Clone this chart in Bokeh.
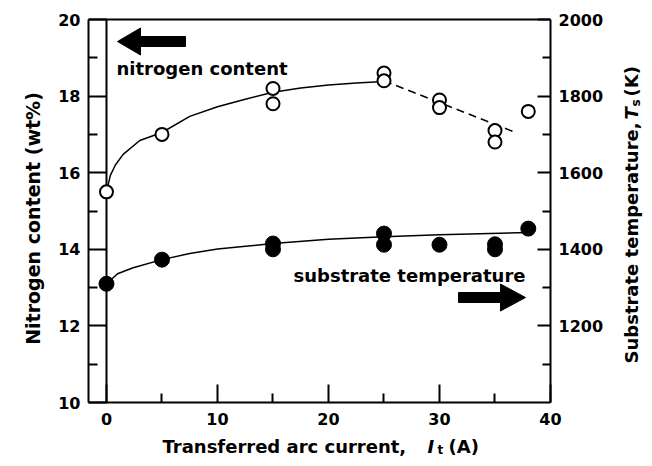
import math
from bokeh.plotting import figure
from bokeh.models import Range1d, LinearAxis, FixedTicker, Label, ColumnDataSource
from bokeh.embed import file_html
from bokeh.resources import INLINE

# ---------------- data ----------------
# nitrogen content (open circles, left axis, wt%)
n_current = [0, 5, 15, 15, 25, 25, 30, 30, 35, 35, 38]
n_content = [15.5, 17.0, 18.2, 17.8, 18.6, 18.4, 17.9, 17.7, 17.1, 16.8, 17.6]

# substrate temperature (filled circles, right axis, K)
t_current = [0, 5, 15, 15, 25, 25, 30, 35, 35, 38]
t_temp = [1310, 1373, 1415, 1400, 1441, 1412, 1412, 1413, 1400, 1454]

# fitted curves as drawn in the figure
n_fit_x = [0, 0.35, 0.8, 1.5, 3, 5, 7.5, 10, 12.5, 15, 17.5, 20, 22.5, 25]
n_fit_y = [15.5, 15.93, 16.2, 16.48, 16.84, 17.05, 17.47, 17.72, 17.92,
           18.1, 18.21, 18.29, 18.34, 18.38]
n_dash_x = [25, 30, 36.6]
n_dash_y = [18.4, 17.83, 17.08]

t_fit_x = [0, 0.5, 1, 2.4, 5, 7.5, 10, 15, 20, 25, 30, 38]
t_fit_y = [1310, 1323, 1336, 1352, 1373, 1389, 1401, 1415, 1426, 1433, 1438, 1444]

x_ticks = [0, 10, 20, 30, 40]
x_minor = [5, 15, 25, 35]
yl_ticks = [10, 12, 14, 16, 18, 20]
yl_minor = [11, 13, 15, 17, 19]
yr_ticks = [1200, 1400, 1600, 1800, 2000]
yr_minor = [1100, 1300, 1500, 1700, 1900]

X_LO, X_HI = -1.62, 40      # plotted box, x
Y_LO, Y_HI = 10, 20         # plotted box, left axis
T_LO, T_HI = 1000, 2000     # plotted box, right axis

FONT = "DejaVu Sans"
W, H = 644, 458
# pixel geometry of the plotted box inside the canvas
BOX_L, BOX_R, BOX_T, BOX_B = 88, 550, 19, 402

sx = (BOX_R - BOX_L) / (X_HI - X_LO)
sy = (BOX_B - BOX_T) / (Y_HI - Y_LO)
x_full = (X_LO - BOX_L / sx, X_HI + (W - BOX_R) / sx)
y_full = (Y_LO - (H - BOX_B) / sy, Y_HI + BOX_T / sy)
k = (T_HI - T_LO) / (Y_HI - Y_LO)
t_full = (T_LO + (y_full[0] - Y_LO) * k, T_LO + (y_full[1] - Y_LO) * k)

def fx(px):
    return x_full[0] + px / sx

def fy(py):
    return y_full[1] - py / sy

p = figure(width=W, height=H, output_backend="svg", toolbar_location=None,
           x_range=Range1d(*x_full), y_range=Range1d(*y_full),
           min_border=0, background_fill_color="white",
           border_fill_color="white", x_axis_location=None, y_axis_location=None)
p.grid.visible = False
p.outline_line_color = None
p.extra_y_ranges = {"T": Range1d(*t_full)}

def style_axis(ax, major_in, minor_in, standoff, labels=True):
    ax.axis_line_width = 2
    ax.axis_line_color = "black"
    ax.major_tick_in = major_in
    ax.major_tick_out = 0
    ax.minor_tick_in = minor_in
    ax.minor_tick_out = 0
    ax.major_tick_line_width = 2
    ax.minor_tick_line_width = 2
    ax.major_tick_line_color = "black"
    ax.minor_tick_line_color = "black"
    ax.major_label_text_font = FONT
    ax.major_label_text_font_style = "bold"
    ax.major_label_text_font_size = "16px"
    ax.major_label_text_color = "black"
    ax.major_label_standoff = standoff
    if not labels:
        ax.major_label_text_alpha = 0

xa = LinearAxis(fixed_location=Y_LO, bounds=(X_LO, X_HI),
                ticker=FixedTicker(ticks=x_ticks, minor_ticks=x_minor))
style_axis(xa, 18, 9, 10)
p.add_layout(xa, "below")

ya = LinearAxis(fixed_location=X_LO, bounds=(Y_LO, Y_HI),
                ticker=FixedTicker(ticks=yl_ticks, minor_ticks=yl_minor))
style_axis(ya, 18, 9, 8)
p.add_layout(ya, "left")

ra = LinearAxis(y_range_name="T", fixed_location=X_HI, bounds=(T_LO, T_HI),
                ticker=FixedTicker(ticks=yr_ticks, minor_ticks=yr_minor))
style_axis(ra, 13, 8, 8)
p.add_layout(ra, "right")

# top edge of the box and the vertical line at zero current
ta = LinearAxis(fixed_location=Y_HI, bounds=(X_LO, X_HI), ticker=FixedTicker(ticks=[]))
style_axis(ta, 0, 0, 0, labels=False)
p.add_layout(ta, "above")

za = LinearAxis(fixed_location=0, bounds=(Y_LO, Y_HI), ticker=FixedTicker(ticks=[]))
style_axis(za, 0, 0, 0, labels=False)
p.add_layout(za, "left")

# curves
p.line(n_fit_x, n_fit_y, line_color="black", line_width=1.5)
p.line(n_dash_x, n_dash_y, line_color="black", line_width=1.5, line_dash="8 5")
p.line(t_fit_x, t_fit_y, line_color="black", line_width=1.5, y_range_name="T")

src_n = ColumnDataSource(dict(x=n_current, y=n_content))
src_t = ColumnDataSource(dict(x=t_current, y=t_temp))
p.scatter("x", "y", source=src_n, size=13, marker="circle",
          fill_color="white", line_color="black", line_width=2, level="overlay")
p.scatter("x", "y", source=src_t, size=15, marker="circle",
          fill_color="black", line_color="black", line_width=1, y_range_name="T",
          level="overlay")

# arrows: tip, head base, tail (px), centre y (px)
def arrow(tip, base, tail, yc, hh=13.5, sh=5):
    xs = [fx(v) for v in (tip, base, base, tail, tail, base, base)]
    ys = [fy(v) for v in (yc, yc - hh, yc - sh, yc - sh, yc + sh, yc + sh, yc + hh)]
    p.patch(xs, ys, fill_color="black", line_color="black", line_width=1)

arrow(117, 140, 185, 41)
arrow(525, 500, 458, 297)

# text anchors given as the visual centre of each text (px)
def lab(text, px, py, size="18px", style="bold", align="left", angle=0.0):
    p.add_layout(Label(x=fx(px), y=fy(py), text=text, text_font=FONT,
                       text_font_size=size, text_font_style=style,
                       text_color="black", text_align=align,
                       text_baseline="middle", angle=angle, angle_units="rad"))

lab("nitrogen content", 116, 68)
lab("substrate temperature", 293, 275)

# x axis title
lab("Transferred arc current,", 162, 446)
lab("I", 427, 446, style="bold italic")
lab("t", 437, 449, size="12px")
lab("(A)", 448, 446)

# left axis title
lab("Nitrogen content (wt%)", 32, 218, size="19px", align="center", angle=math.pi / 2)

# right axis title (reads bottom to top)
up = math.pi / 2
lab("Substrate temperature,", 631, 363, angle=up)
lab("T", 631, 119, style="bold italic", angle=up)
lab("s", 635, 106, size="12px", angle=up)
lab("(K)", 631, 96, angle=up)

open("out.html", "w").write(file_html(p, INLINE))
